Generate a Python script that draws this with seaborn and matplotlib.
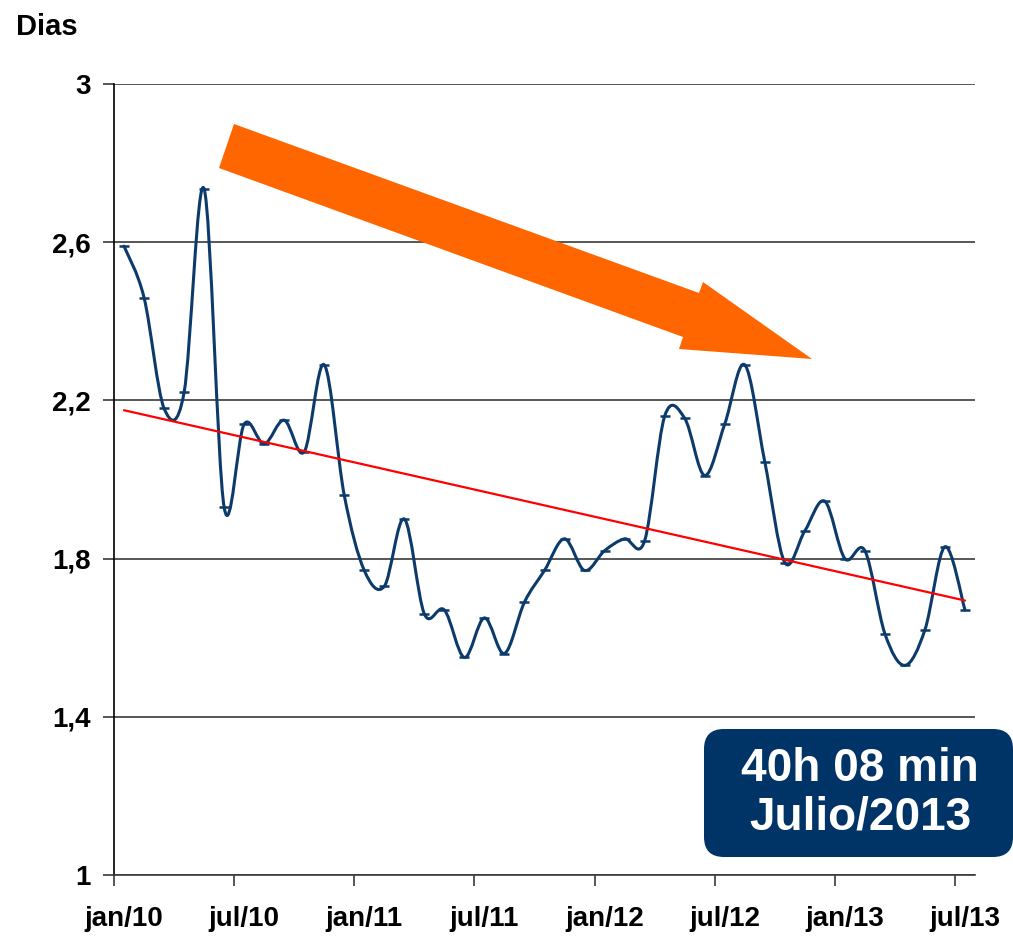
import numpy as np
import pandas as pd
import matplotlib
matplotlib.use("Agg")
import matplotlib.pyplot as plt
import seaborn as sns
from matplotlib.path import Path
from matplotlib.patches import PathPatch, Polygon, FancyBboxPatch

# monthly values, jan/10 .. jul/13
months = [f"{m}/{y}" for y in range(10, 14)
          for m in ["jan", "fev", "mar", "abr", "mai", "jun",
                    "jul", "ago", "set", "out", "nov", "dez"]][:43]
dias = [2.59, 2.46, 2.18, 2.22, 2.735, 1.93, 2.14, 2.09, 2.15, 2.07,
        2.29, 1.96, 1.77, 1.73, 1.90, 1.66, 1.67, 1.55, 1.65, 1.56,
        1.69, 1.77, 1.85, 1.77, 1.82, 1.85, 1.845, 2.16, 2.155, 2.01,
        2.14, 2.29, 2.045, 1.79, 1.87, 1.945, 1.80, 1.82, 1.61, 1.53,
        1.62, 1.83, 1.67]
tick_labels = ["jan/10", "jul/10", "jan/11", "jul/11",
               "jan/12", "jul/12", "jan/13", "jul/13"]
y_ticks = [1, 1.4, 1.8, 2.2, 2.6, 3]
y_tick_labels = ["1", "1,4", "1,8", "2,2", "2,6", "3"]

df = pd.DataFrame({"idx": np.arange(len(dias)), "dias": dias, "mes": months})

navy = "#0B3A6B"
box_navy = "#003366"
orange = "#FF6600"

sns.set_style("white")
plt.rcParams["font.family"] = ["Liberation Sans", "DejaVu Sans"]
plt.rcParams["font.weight"] = "bold"
plt.rcParams["text.color"] = "black"
plt.rcParams["xtick.color"] = "black"
plt.rcParams["ytick.color"] = "black"

fig = plt.figure(figsize=(10.13, 9.39), dpi=100)
ax = fig.add_axes([114 / 1013, 1 - 875 / 939, 861 / 1013, 791 / 939])


# smoothed line like Excel (Bezier through every point)
def smooth_path(xs, ys):
    pts = np.column_stack([xs, ys]).astype(float)
    n = len(pts)
    verts = [pts[0]]
    codes = [Path.MOVETO]
    for i in range(n - 1):
        p0 = pts[i - 1] if i > 0 else pts[i]
        p1 = pts[i]
        p2 = pts[i + 1]
        p3 = pts[i + 2] if i + 2 < n else pts[i + 1]
        verts += [p1 + (p2 - p0) / 6, p2 - (p3 - p1) / 6, p2]
        codes += [Path.CURVE4] * 3
    return Path(verts, codes)


ax.add_patch(PathPatch(smooth_path(df["idx"], df["dias"]), fill=False,
                       edgecolor=navy, lw=2.2, zorder=3,
                       capstyle="round", joinstyle="round"))

# dash markers on each month
sns.lineplot(x="idx", y="dias", data=df, lw=0, marker="_", markersize=7,
             markeredgewidth=1.8, markeredgecolor=navy, color=navy,
             zorder=4, ax=ax)

# linear trend line
sns.regplot(x="idx", y="dias", data=df, scatter=False, ci=None,
            truncate=True, color="red", line_kws={"lw": 1.6, "zorder": 5},
            ax=ax)

ax.set_xlim(-0.5, len(dias) - 0.5)
ax.set_ylim(1, 3)
ax.set_xlabel("")
ax.set_ylabel("")

ax.set_yticks(y_ticks)
ax.set_yticklabels(y_tick_labels, fontsize=20, fontweight="bold",
                   color="black")
ax.set_xticks(np.arange(0, len(dias), 6))
ax.set_xticklabels(tick_labels, fontsize=20, fontweight="bold",
                   color="black")
ax.set_xticks(np.arange(-0.5, len(dias) - 1, 6), minor=True)

ax.tick_params(axis="y", which="major", length=8, width=1.2,
               color="#3a3a3a", direction="out", pad=9, left=True)
ax.tick_params(axis="x", which="major", length=0, pad=22)
ax.tick_params(axis="x", which="minor", length=8, width=1.2,
               color="#3a3a3a", direction="out", bottom=True)

ax.grid(axis="y", color="#3a3a3a", lw=1.2)
ax.grid(axis="x", visible=False)
ax.set_axisbelow(True)
for side in ["top", "right"]:
    ax.spines[side].set_visible(False)
ax.spines["left"].set_color("black")
ax.spines["left"].set_linewidth(1.2)
ax.spines["bottom"].set_color("#3a3a3a")
ax.spines["bottom"].set_linewidth(1.2)
ax.patch.set_alpha(0)

fig.text(16 / 1013, 1 - 35 / 939, "Dias", fontsize=21, fontweight="bold",
         color="black", ha="left", va="baseline")

# overlay in pixel units for the arrow and the box
ov = fig.add_axes([0, 0, 1, 1])
ov.set_xlim(0, 1013)
ov.set_ylim(939, 0)
ov.axis("off")
ov.patch.set_alpha(0)

arrow = [(234, 124), (699, 293), (703, 282), (812, 359),
         (679, 349), (683, 337), (219, 168)]
ov.add_patch(Polygon(arrow, closed=True, facecolor=orange,
                     edgecolor="none"))

ov.add_patch(FancyBboxPatch((704, 729), 309, 128,
                            boxstyle="round,pad=0,rounding_size=20",
                            facecolor=box_navy, edgecolor="none"))
ov.text(860, 781, "40h 08 min", color="white", fontsize=33,
        fontweight="bold", ha="center", va="baseline")
ov.text(860, 830, "Julio/2013", color="white", fontsize=33,
        fontweight="bold", ha="center", va="baseline")

fig.savefig("out.png", dpi=100)
